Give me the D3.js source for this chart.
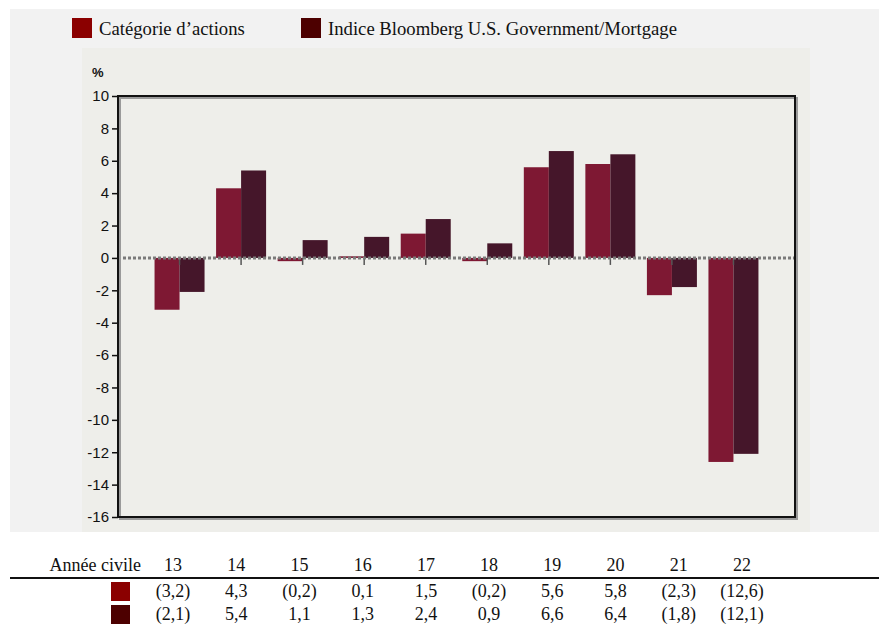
<!DOCTYPE html>
<html>
<head>
<meta charset="utf-8">
<script src="https://cdn.jsdelivr.net/npm/d3@7"></script>
<style>
  html, body { margin: 0; padding: 0; background: #ffffff; }
  svg { display: block; }
</style>
</head>
<body>
<script>
// Calendar years and annual returns (%)
const years = ["13", "14", "15", "16", "17", "18", "19", "20", "21", "22"];
const categoryReturns = [-3.2, 4.3, -0.2, 0.1, 1.5, -0.2, 5.6, 5.8, -2.3, -12.6];
const indexReturns = [-2.1, 5.4, 1.1, 1.3, 2.4, 0.9, 6.6, 6.4, -1.8, -12.1];
const seriesNames = ["Catégorie d’actions", "Indice Bloomberg U.S. Government/Mortgage"];
const yTicks = [10, 8, 6, 4, 2, 0, -2, -4, -6, -8, -10, -12, -14, -16];

(function () {
  const W = 879, H = 625;
  const svg = d3.select("body").append("svg").attr("width", W).attr("height", H);
  const serif = "'Liberation Serif', 'Times New Roman', serif";
  const sans = "'Liberation Sans', Arial, sans-serif";

  const barColors = ["#7e1833", "#45162a"];
  const swatchColors = ["#8b0000", "#4d0000"];

  // backgrounds
  svg.append("rect").attr("x", 10).attr("y", 9).attr("width", W - 10).attr("height", 523).attr("fill", "#f2f2f2");
  svg.append("rect").attr("x", 82).attr("y", 48).attr("width", 728).attr("height", 484).attr("fill", "#eeeeea");

  // legend
  const legend = svg.append("g");
  const legendX = [72, 301];
  seriesNames.forEach((name, i) => {
    legend.append("rect").attr("x", legendX[i]).attr("y", 18).attr("width", 20).attr("height", 20).attr("fill", swatchColors[i]);
    legend.append("text").attr("x", legendX[i] + 27).attr("y", 35)
      .style("font-family", serif).style("font-size", "18.7px")
      .attr("fill", "#111").text(name);
  });

  // scales
  const pLeft = 118, pRight = 795, pTop = 96, pBottom = 517;
  const y = d3.scaleLinear().domain([-16, 10]).range([pBottom, pTop]);
  const x = d3.scalePoint().domain(years).range([pLeft, pRight]).padding(1);
  const barW = 25;

  // y axis
  const yAxis = svg.append("g").attr("transform", `translate(${pLeft},0)`)
    .call(d3.axisLeft(y).tickValues(yTicks).tickSize(6).tickPadding(3).tickFormat(d => String(d)));
  yAxis.select(".domain").remove();
  yAxis.selectAll(".tick line").attr("stroke", "#111").attr("stroke-width", 1.5);
  yAxis.selectAll(".tick text").style("font-family", sans)
    .style("font-size", "15px").attr("fill", "#111");

  svg.append("text").attr("x", 92).attr("y", 77).style("font-family", sans)
    .style("font-size", "13px").attr("font-weight", "bold").attr("fill", "#111").text("%");

  // bars
  const series = [categoryReturns, indexReturns];
  series.forEach((vals, s) => {
    svg.append("g").selectAll("rect").data(vals).join("rect")
      .attr("x", (d, i) => x(years[i]) - barW + s * barW)
      .attr("y", d => y(Math.max(0, d)))
      .attr("width", barW)
      .attr("height", d => Math.abs(y(d) - y(0)))
      .attr("fill", barColors[s]);
  });

  // category ticks below the zero line
  svg.append("g").selectAll("line").data(years).join("line")
    .attr("x1", d => x(d)).attr("x2", d => x(d))
    .attr("y1", y(0)).attr("y2", y(0) + 7)
    .attr("stroke", "#555").attr("stroke-width", 1.5);

  // zero line
  svg.append("line").attr("x1", pLeft).attr("x2", pRight).attr("y1", y(0)).attr("y2", y(0))
    .attr("stroke", "#7a7a7a").attr("stroke-width", 3).attr("stroke-dasharray", "3,2");

  // frame with shadow
  svg.append("rect").attr("x", pLeft + 2).attr("y", pTop + 2).attr("width", pRight - pLeft).attr("height", pBottom - pTop)
    .attr("fill", "none").attr("stroke", "#9a9a9a").attr("stroke-width", 2);
  svg.append("rect").attr("x", pLeft).attr("y", pTop).attr("width", pRight - pLeft).attr("height", pBottom - pTop)
    .attr("fill", "none").attr("stroke", "#111").attr("stroke-width", 2);

  // data table
  const tx = d3.scalePoint().domain(years).range([173, 742]);
  const fmt = v => {
    const s = Math.abs(v).toFixed(1).replace(".", ",");
    return v < 0 ? `(${s})` : s;
  };
  const table = svg.append("g").style("font-family", serif).style("font-size", "18px").attr("fill", "#111");
  table.append("text").attr("x", 141).attr("y", 571).attr("text-anchor", "end").text("Année civile");
  table.selectAll(".yr").data(years).join("text").attr("class", "yr")
    .attr("x", d => tx(d)).attr("y", 571).attr("text-anchor", "middle").text(d => d);
  svg.append("line").attr("x1", 10).attr("x2", W).attr("y1", 578).attr("y2", 578)
    .attr("stroke", "#111").attr("stroke-width", 2);
  const rowY = [597, 620];
  series.forEach((vals, s) => {
    svg.append("rect").attr("x", 111).attr("y", rowY[s] - 15).attr("width", 19).attr("height", 19).attr("fill", swatchColors[s]);
    table.append("g").selectAll("text").data(vals).join("text")
      .attr("x", (d, i) => tx(years[i])).attr("y", rowY[s]).attr("text-anchor", "middle").text(fmt);
  });
})();
</script>
</body>
</html>
